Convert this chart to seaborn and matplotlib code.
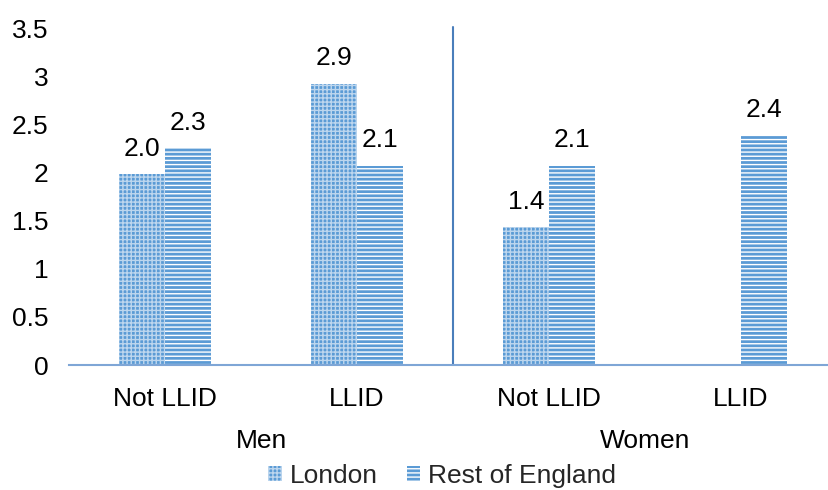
import numpy as np
import pandas as pd
import matplotlib
matplotlib.use("Agg")
import matplotlib.pyplot as plt
import matplotlib.transforms as mtransforms
import seaborn as sns

# ---- data ----
groups = ["Men", "Women"]
conditions = ["Not LLID", "LLID"]
series = ["London", "Rest of England"]
london = [1.98, 2.92, 1.43, np.nan]
rest = [2.25, 2.07, 2.07, 2.38]
london_labels = ["2.0", "2.9", "1.4", ""]
rest_labels = ["2.3", "2.1", "2.1", "2.4"]
y_ticks = [0, 0.5, 1, 1.5, 2, 2.5, 3, 3.5]
y_tick_labels = ["0", "0.5", "1", "1.5", "2", "2.5", "3", "3.5"]

categories = [f"{g} {c}" for g in groups for c in conditions]
cat_labels = [c for g in groups for c in conditions]

df = pd.DataFrame({
    "cat": categories * 2,
    "series": [series[0]] * 4 + [series[1]] * 4,
    "value": london + rest,
})

sns.set_theme(style="white")
plt.rcParams["font.family"] = ["Liberation Sans", "DejaVu Sans"]
plt.rcParams["hatch.linewidth"] = 1.0

FS = 19
blue = "#5B9BD5"
fig = plt.figure(figsize=(8.29, 4.90), dpi=100)
ax = fig.add_axes([69 / 829, 125 / 490, 1 - 69 / 829, 337 / 490])

sns.barplot(data=df, x="cat", y="value", hue="series", order=categories,
            hue_order=series, palette=[blue, blue], width=0.48,
            errorbar=None, ax=ax, legend=False, saturation=1)

styles = [("++++", (1, 1, 1, 0.6)), ("----", (1, 1, 1, 1.0))]
label_sets = [london_labels, rest_labels]
for cont, (hatch, hcol), labs in zip(ax.containers, styles, label_sets):
    for p in cont.patches:
        p.set_hatch(hatch)
        p.set_edgecolor(hcol)
        p.set_linewidth(0)
        h = p.get_height()
        if np.isnan(h) or h == 0:
            continue
        xc = p.get_x() + p.get_width() / 2
        idx = int(round(xc))
        ax.annotate(labs[idx], (xc, h), xytext=(0, 13.5), textcoords="offset points",
                    ha="center", va="baseline", fontsize=FS, color="#000000")

ax.set_ylim(0, 3.5)
ax.set_xlim(-0.5, 3.458)
ax.set_yticks(y_ticks)
ax.set_yticklabels(y_tick_labels)
ax.set_xticks(range(len(categories)))
ax.set_xticklabels(cat_labels)
ax.tick_params(axis="both", length=0, labelsize=FS, colors="#000000")
ax.tick_params(axis="y", pad=15)
ax.tick_params(axis="x", pad=16)
ax.set_xlabel("")
ax.set_ylabel("")
for s in ["top", "right", "left"]:
    ax.spines[s].set_visible(False)
ax.spines["bottom"].set_color("#7FA6D6")
ax.spines["bottom"].set_linewidth(1.5)

# separator between groups
ax.axvline(1.5, ymin=0, ymax=1.003, color="#4A7EBB", linewidth=1.5, clip_on=False)

# group labels
trans = mtransforms.blended_transform_factory(ax.transData, ax.transAxes)
for i, g in enumerate(groups):
    ax.text(2 * i + 0.5, -0.2255, g, transform=trans, ha="center", va="center",
            fontsize=FS, color="#000000")

handles = [ax.containers[0], ax.containers[1]]
fig.legend(handles, series, loc="center", bbox_to_anchor=(442 / 829, 14 / 490),
           ncol=2, frameon=False, fontsize=FS, handlelength=0.52, handleheight=0.52,
           handletextpad=0.3, columnspacing=1.1, borderpad=0, borderaxespad=0)

fig.savefig("out.png", dpi=100)
